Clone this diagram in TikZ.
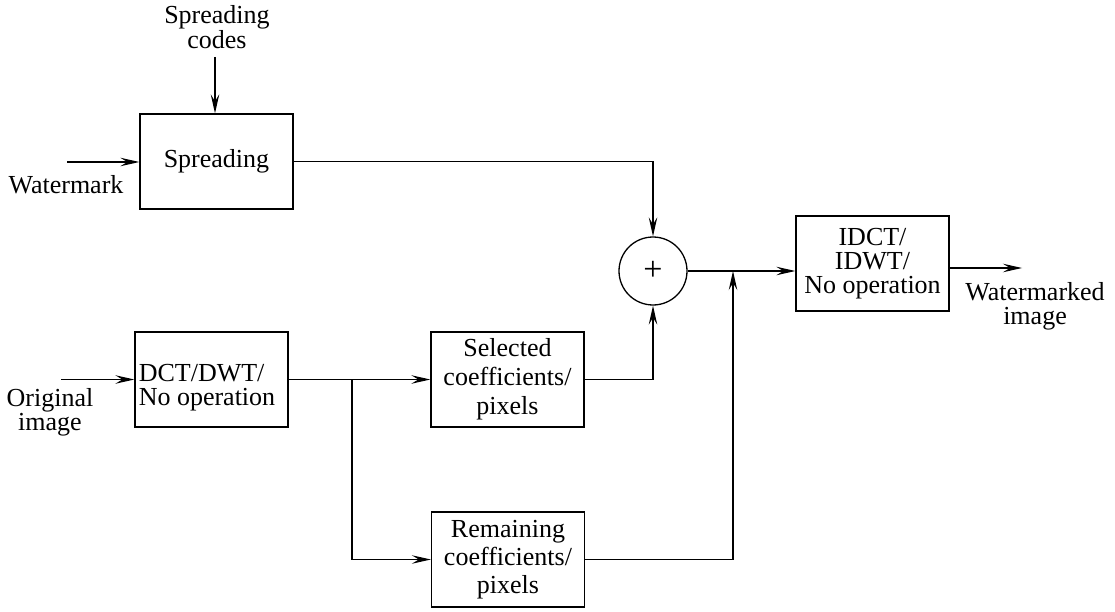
\documentclass[tikz,border=0pt]{standalone}
\usepackage{fontspec}
\setmainfont{Liberation Serif}
\usetikzlibrary{arrows.meta}
\begin{document}
\begin{tikzpicture}[x=1pt,y=-1pt,
  every node/.style={font=\fontsize{26}{23.5}\selectfont},
  blk/.style={draw, line width=1.3pt, minimum width=153pt, minimum height=95pt,
              inner sep=0pt, align=center},
  wire/.style={line width=1.3pt},
  flow/.style={wire, -{Stealth[length=19pt,width=8.5pt,inset=7pt]}},
  lbl/.style={align=center, inner sep=0pt}]
\useasboundingbox (0,0) rectangle (1115,612);

% processing blocks
\node[blk] (spread) at (216.5,161.5) {Spreading};
\node[blk, align=left, font=\fontsize{26}{24}\selectfont] (dct) at (211.5,379.5)
  {\hspace*{-9pt}\rule{0pt}{33pt}DCT/DWT/\\\hspace*{-9pt}No operation};
\node[blk, font=\fontsize{26}{29}\selectfont] (sel) at (507.5,379.5)
  {Selected\\coefficients/\\pixels};
\node[blk, font=\fontsize{26}{28}\selectfont] (rem) at (508,559.5)
  {Remaining\\coefficients/\\pixels};
\node[blk, font=\fontsize{26}{24}\selectfont] (inv) at (872.5,263.5)
  {IDCT/\\IDWT/\\No operation};
\node[draw, circle, line width=1.3pt, minimum size=68pt, inner sep=0pt,
      font=\fontsize{34}{34}\selectfont] (sum) at (653,271) {+};

% input / output labels
\node[lbl, anchor=south, font=\fontsize{26}{25}\selectfont] (codes) at (217,49) {Spreading\\codes};
\node[lbl, anchor=base] (wm) at (66,194) {Watermark};
\node[lbl, anchor=south, font=\fontsize{26}{24}\selectfont] (orig) at (50,436) {Original\\image};
\node[lbl, anchor=south, font=\fontsize{26}{24}\selectfont] (wmd) at (1035,330) {Watermarked\\image};

% free ends and branch points
\coordinate (cin) at (215,57);
\coordinate (wmin) at (67,162);
\coordinate (oin) at (61,379.5);
\coordinate (split) at (352,379.5);
\coordinate (merge) at (733,271);
\coordinate (wout) at (1022,268);

% connectors
\draw[flow] (cin) -- (cin |- spread.north);
\draw[flow] (wmin) -- (wmin -| spread.west);
\draw[flow] (spread.east) -| (sum.north);
\draw[flow] (oin) -- (dct.west);
\draw[flow] (dct.east) -- (sel.west);
\draw[flow] (split) |- (rem.west);
\draw[flow] (sel.east) -| (sum.south);
\draw[flow] (sum.east) -- (sum.east -| inv.west);
\draw[flow] (rem.east) -| (merge);
\draw[flow] (inv.east |- wout) -- (wout);
\end{tikzpicture}
\end{document}
